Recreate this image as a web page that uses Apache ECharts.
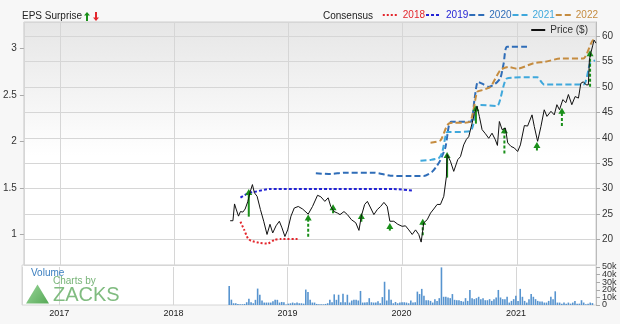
<!DOCTYPE html>
<html><head><meta charset="utf-8">
<script src="https://cdn.jsdelivr.net/npm/echarts@6/dist/echarts.min.js"></script>
<style>html,body{margin:0;padding:0;background:#f7f7f7}#c{width:620px;height:324px}</style>
</head><body><div id="c"></div>
<script>
// ---- Data (x in decimal years) ----
const priceX = [2018.489,2018.513,2018.527,2018.541,2018.562,2018.579,2018.600,2018.620,2018.644,2018.666,2018.684,2018.701,2018.725,2018.754,2018.783,2018.812,2018.838,2018.862,2018.891,2018.920,2018.943,2018.969,2018.993,2019.022,2019.051,2019.086,2019.124,2019.173,2019.211,2019.255,2019.284,2019.319,2019.348,2019.371,2019.400,2019.430,2019.452,2019.487,2019.517,2019.552,2019.590,2019.618,2019.639,2019.668,2019.692,2019.721,2019.749,2019.779,2019.808,2019.837,2019.866,2019.889,2019.924,2019.959,2019.997,2020.026,2020.055,2020.085,2020.114,2020.142,2020.163,2020.186,2020.216,2020.245,2020.273,2020.303,2020.332,2020.361,2020.384,2020.390,2020.419,2020.448,2020.483,2020.507,2020.535,2020.559,2020.579,2020.609,2020.629,2020.652,2020.672,2020.696,2020.725,2020.754,2020.783,2020.812,2020.830,2020.847,2020.871,2020.900,2020.920,2020.949,2020.978,2021.007,2021.031,2021.066,2021.094,2021.133,2021.153,2021.182,2021.211,2021.240,2021.264,2021.299,2021.328,2021.351,2021.374,2021.403,2021.430,2021.452,2021.482,2021.511,2021.540,2021.561,2021.583,2021.607,2021.627,2021.636,2021.648,2021.666,2021.677,2021.694];
const priceY = [23.7,23.7,27.0,26.0,24.6,25.5,25.4,26.0,27.5,29.5,30.8,29.2,28.5,25.9,23.6,21.0,23.0,21.3,22.7,23.6,22.3,20.6,21.9,24.6,26.2,26.5,26.0,25.0,26.5,28.7,28.4,27.5,28.2,26.5,25.5,25.2,24.9,25.5,24.9,23.9,23.3,21.8,24.6,26.9,27.5,26.2,24.9,25.9,26.5,27.3,26.5,23.6,23.6,23.0,22.6,22.7,21.9,21.0,21.9,21.0,19.5,23.3,23.9,25.2,26.0,26.9,26.9,28.5,32.4,36.7,35.4,33.4,35.7,36.3,38.6,39.7,40.2,42.9,44.8,46.2,44.2,41.6,40.8,39.9,40.9,39.6,38.5,43.2,41.6,41.9,39.0,38.3,38.0,37.3,38.6,42.4,42.3,44.5,42.2,39.3,42.2,45.5,44.2,45.2,44.5,46.5,45.5,47.5,46.9,48.5,46.5,48.1,47.8,50.7,51.0,50.4,50.4,55.3,56.6,58.2,59.2,58.6];

const c2018X = [2018.579,2018.611,2018.644,2018.672,2018.742,2018.818,2018.876,2018.934,2019.086];
const c2018Y = [1.135,1.05,0.957,0.93,0.91,0.90,0.94,0.95,0.95];
const c2019X = [2018.579,2018.644,2018.716,2018.832,2019.371,2019.924,2020.085];
const c2019Y = [1.394,1.44,1.46,1.487,1.487,1.487,1.47];
const c2020X = [2019.240,2019.371,2019.487,2019.749,2019.895,2020.041,2020.186,2020.259,2020.303,2020.332,2020.376,2020.404,2020.425,2020.594,2020.629,2020.658,2020.696,2020.754,2020.812,2020.856,2020.885,2020.914,2021.089];
const c2020Y = [1.656,1.648,1.663,1.663,1.63,1.627,1.627,1.673,1.74,1.80,1.94,2.16,2.21,2.21,2.444,2.64,2.62,2.585,2.62,2.68,2.84,3.017,3.017];
const c2021X = [2020.157,2020.245,2020.317,2020.347,2020.390,2020.419,2020.594,2020.652,2020.681,2020.827,2020.914,2021.147,2021.179,2021.240,2021.583,2021.642,2021.686];
const c2021Y = [1.79,1.80,1.82,1.88,2.10,2.10,2.11,2.37,2.39,2.38,2.677,2.69,2.69,2.61,2.61,2.84,2.87];
const c2022X = [2020.245,2020.332,2020.404,2020.588,2020.652,2020.696,2020.769,2020.856,2020.928,2021.002,2021.147,2021.249,2021.380,2021.583,2021.671,2021.694];
const c2022Y = [1.985,2.01,2.19,2.21,2.53,2.55,2.585,2.767,2.80,2.78,2.84,2.855,2.89,2.89,3.09,3.07];

const arrowX = [2018.652,2019.173,2019.391,2019.639,2019.889,2020.177,2020.390,2020.642,2020.891,2021.176,2021.395,2021.642];
const arrowFrom = [1.19,0.974,1.226,1.135,1.04,0.99,1.61,2.19,1.87,1.90,2.165,2.587];
const arrowTo = [1.455,1.18,1.29,1.197,1.09,1.135,1.853,2.355,2.12,1.96,2.33,2.946];
const arrowDashed = [false,true,true,true,true,true,false,false,true,true,true,true];

const volStart = 2018.489; // first weekly bar
const volumeK = [25,7,2.3,2.3,1.4,1,1,1.4,3.6,8.1,3.6,2.3,6.8,21.6,13.5,5.9,3.2,3.2,3.2,3.2,5,6.8,6.8,3.2,4,3.6,0.5,1.8,2.3,3.2,2.3,3.2,2.3,2.3,1.8,20.3,17.1,6.8,3.2,3.2,1.4,0.9,0.9,0.9,1.4,2.3,6.8,3.6,14,6.8,13.5,3.6,14.9,3.6,13.5,3.2,5.9,6.8,6.8,5.9,18.5,3.2,3.2,3.6,9,3.6,3.2,3.2,5,2.3,10.4,30.6,5.9,20.3,6.8,2.3,4,2.3,3.2,3.6,3.6,3.2,2.3,5.9,3.2,3.6,
17.6,14.4,21.2,12.2,6.3,6.3,5.4,3.2,7.7,5.4,9,49.5,10.8,10.8,9.9,9,14.4,6.8,6.3,6.3,5.4,4.5,9,5.4,19.8,9,7.7,9,10.8,7.7,9,6.3,6.3,7.7,5.4,7.7,9.9,19.8,9.9,7.7,7.7,10.8,3.2,5.4,7.7,12.2,5.4,21.2,10.8,5.4,3.2,7.7,14.4,10.8,7.7,5.4,4.5,4.5,3.2,3.2,5.4,10.8,7.7,18,3.2,3.2,1.8,3.2,1.8,3.2,1.8,3.2,5.4,1.8,1.8,6.3,3.2,0.9,1.8,3.2,2.5];

const epsTicks = [1,1.5,2,2.5,3];
const volTicksA = [0,20,40];   // volume tick labels (k), split over two axes
const volTicksB = [10,30,50];
const consNames = ['2018','2019','2020','2021','2022'];

// ---- helpers ----
function t(y){const yi=Math.floor(y);const a=Date.UTC(yi,0,1),b=Date.UTC(yi+1,0,1);return a+(y-yi)*(b-a);}
function pairs(xs,ys){return xs.map((x,i)=>[t(x),ys[i]]);}
const WEEK = 7*86400000;
const volData = volumeK.map((v,i)=>[t(volStart)+i*WEEK, v]);

const FONT = 'Liberation Sans, Arial, sans-serif';
const gridLine = {show:true, lineStyle:{color:'#d6d6d6', width:1}};
const consColors = {'2018':'#e3262c','2019':'#2424d4','2020':'#2f6db8','2021':'#3fa8dc','2022':'#c58c40'};
const GREEN = '#1a8f1a';

function consSeries(name, xs, ys, dash){
  return {name, type:'line', xAxisIndex:0, yAxisIndex:0, data:pairs(xs,ys), symbol:'none', smooth:0.2,
    lineStyle:{color:consColors[name], width:2, type:dash}, itemStyle:{color:consColors[name]}, z:3};
}

const arrowSeries = arrowX.map((x,i)=>({
  name:'surprise'+i, type:'line', xAxisIndex:0, yAxisIndex:0, showSymbol:true, z:4,
  lineStyle:{color:GREEN, width:2, type: arrowDashed[i] ? [3,2] : 'solid'},
  itemStyle:{color:GREEN},
  data:[{value:[t(x), arrowFrom[i]], symbol:'none'},
        {value:[t(x), arrowTo[i]], symbol:'triangle', symbolSize:[7,6]}]
}));

function volAxis(ticks, showLine){
  return {type:'value', gridIndex:1, position:'right', min:0, max:50,
    axisLabel:{customValues:ticks, color:'#333', fontSize:9, fontFamily:FONT, margin:6,
      formatter:v=> v===0 ? '0' : v+'k'},
    axisTick:{show:true, customValues:ticks, length:4, lineStyle:{color:'#aaa'}},
    axisLine:{show:showLine, lineStyle:{color:'#bbb'}}, splitLine:{show:false}};
}

const chart = echarts.init(document.getElementById('c'), null, {renderer:'canvas'});
const xmin = t(2016.681), xmax = t(2021.694);

chart.setOption({
  animation:false,
  useUTC:true,
  backgroundColor:'#f7f7f7',
  textStyle:{fontFamily:FONT},
  graphic:[
    {type:'rect', z:-10, shape:{x:22, y:265, width:574, height:40}, style:{fill:'#ffffff', stroke:'#d6d6d6', lineWidth:1}},
    {type:'text', left:22, top:11, style:{text:'EPS Surprise', font:'10px '+FONT, fill:'#222'}},
    {type:'group', left:84, top:12, children:[
      {type:'polygon', shape:{points:[[2,0],[5,3.5],[3,3.5],[3,9],[1,9],[1,3.5],[-1,3.5]]}, style:{fill:GREEN}},
      {type:'polygon', shape:{points:[[11,9],[14,5.5],[12,5.5],[12,0],[10,0],[10,5.5],[8,5.5]]}, style:{fill:'#e3262c'}}
    ]},
    {type:'text', left:323, top:11, style:{text:'Consensus', font:'10px '+FONT, fill:'#222'}},
    {type:'text', left:31, top:268, z:20, style:{text:'Volume', font:'10px '+FONT, fill:'#3a7ebf'}},
    {type:'polygon', z:20, shape:{points:[[37.5,284.5],[26,303.5],[49,303.5]]},
      style:{fill:new echarts.graphic.LinearGradient(0,0,1,1,[{offset:0,color:'#9ad69a'},{offset:1,color:'#55a855'}])}},
    {type:'text', left:53, top:276, z:20, style:{text:'Charts by', font:'10px '+FONT, fill:'#78b478'}},
    {type:'text', left:53, top:285, z:20, style:{text:'ZACKS', font:'20px '+FONT, fill:'#80bc80'}}
  ],
  grid:[
    {left:22, right:24, top:22, height:243, show:true, borderColor:'#cfcfcf', borderWidth:1,
      backgroundColor:new echarts.graphic.LinearGradient(0,0,0,1,[{offset:0,color:'#e6e6e6'},{offset:0.55,color:'#ffffff'},{offset:1,color:'#ffffff'}])},
    {left:22, right:24, top:267, height:38, show:false}
  ],
  xAxis:[
    {type:'time', gridIndex:0, min:xmin, max:xmax, minInterval:365*86400000,
      axisLabel:{show:false}, axisTick:{show:false}, axisLine:{show:false}, splitLine:gridLine},
    {type:'time', gridIndex:1, min:xmin, max:xmax, minInterval:365*86400000,
      axisLabel:{show:true, formatter:'{yyyy}', color:'#222', fontSize:9, fontFamily:FONT, showMinLabel:false, showMaxLabel:false, margin:4},
      axisTick:{show:false}, axisLine:{show:false}, splitLine:gridLine}
  ],
  yAxis:[
    {type:'value', gridIndex:0, position:'left', min:0.67, max:3.283,
      axisLabel:{customValues:epsTicks, color:'#333', fontSize:10, fontFamily:FONT, margin:7},
      axisTick:{show:true, customValues:epsTicks, length:4, lineStyle:{color:'#aaa'}},
      axisLine:{show:false}, splitLine:{show:false}},
    {type:'value', gridIndex:0, position:'right', min:15, max:62.75, interval:5,
      axisLabel:{color:'#333', fontSize:10, fontFamily:FONT, showMinLabel:false, showMaxLabel:false, margin:6},
      axisTick:{show:true, length:4, lineStyle:{color:'#aaa'}},
      axisLine:{show:true, lineStyle:{color:'#bbb'}}, splitLine:gridLine},
    volAxis(volTicksA, true),
    volAxis(volTicksB, false)
  ],
  legend:[
    {data:consNames.map(n=>({name:n, textStyle:{color:consColors[n]}})),
      right:22, top:10, itemWidth:15, itemHeight:8, itemGap:0, itemStyle:{opacity:0},
      textStyle:{fontSize:10, fontFamily:FONT}, padding:0},
    {data:['Price ($)'], right:32, top:25, itemWidth:14, itemHeight:8, itemStyle:{opacity:0},
      textStyle:{fontSize:10, color:'#333', fontFamily:FONT}, padding:0}
  ],
  series:[
    consSeries('2018', c2018X, c2018Y, [2,2]),
    consSeries('2019', c2019X, c2019Y, [3,2]),
    consSeries('2020', c2020X, c2020Y, [6,3]),
    consSeries('2021', c2021X, c2021Y, [6,3]),
    consSeries('2022', c2022X, c2022Y, [6,3]),
    ...arrowSeries,
    {name:'Price ($)', type:'line', xAxisIndex:0, yAxisIndex:1, data:pairs(priceX,priceY), symbol:'none',
      lineStyle:{color:'#111', width:1}, itemStyle:{color:'#111'}, z:5},
    {name:'Volume', type:'bar', xAxisIndex:1, yAxisIndex:2, data:volData, barWidth:1.6,
      itemStyle:{color:'#5794cf'}, z:2}
  ]
});
</script></body></html>
